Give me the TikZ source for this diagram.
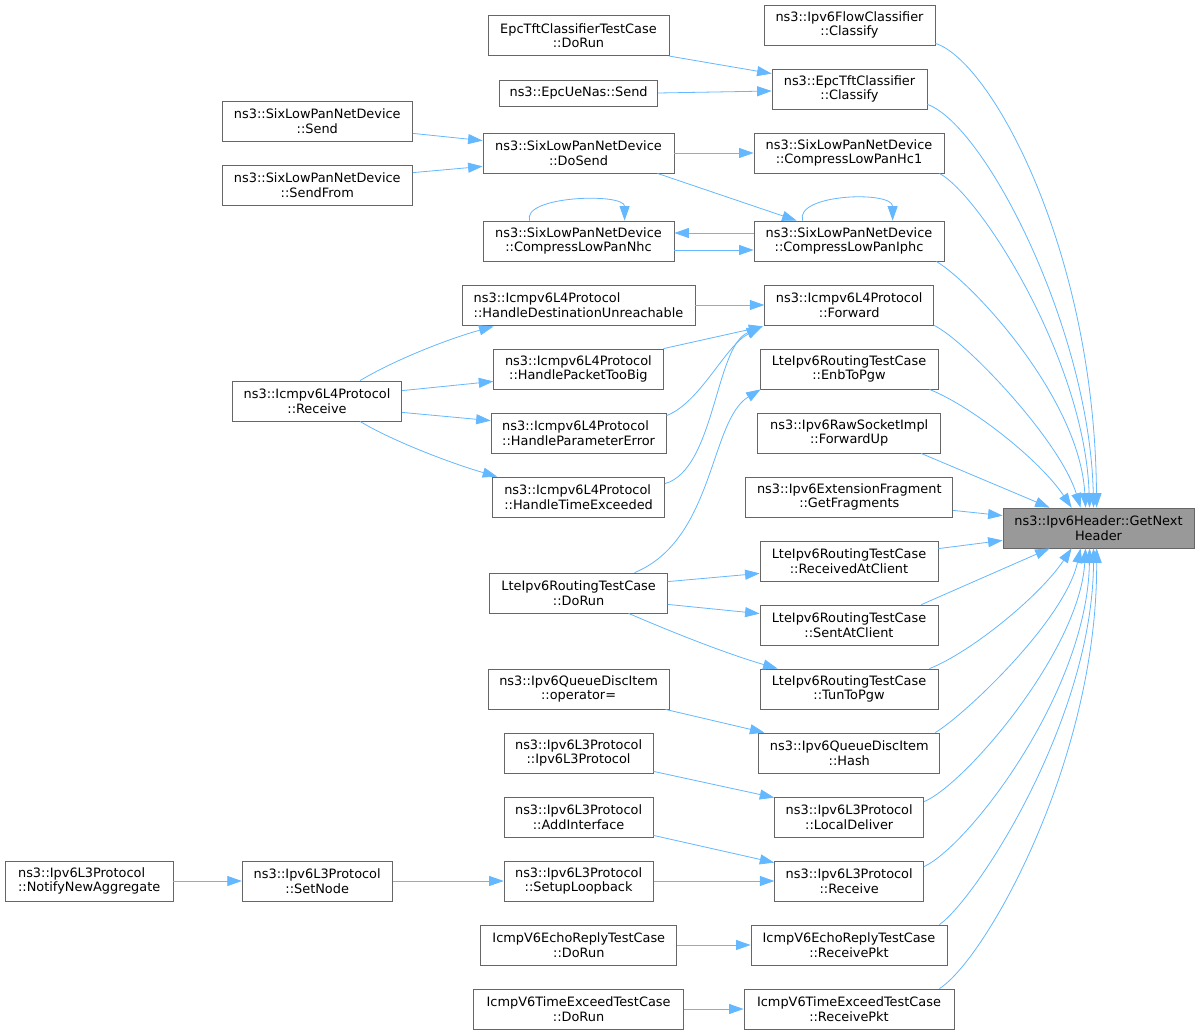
\documentclass[tikz,border=0pt]{standalone}
\usepackage{fontspec}
\setmainfont{DejaVu Sans}
\usetikzlibrary{arrows.meta}
\definecolor{edgec}{HTML}{63B8FF}
\definecolor{boxc}{HTML}{666666}
\definecolor{mainfill}{HTML}{999999}
\begin{document}
\begin{tikzpicture}[x=1bp,y=-1bp,
  box/.style={draw=boxc,line width=0.8bp,fill=white,inner sep=0pt,minimum height=40bp,align=center,font=\fontsize{12.9bp}{14.7bp}\selectfont},
  lbox/.style={box,align=left},
  edge/.style={draw=edgec,line width=0.8bp,-{Triangle[length=14.5bp,width=10bp]}}]
\fill[white] (0,0) rectangle (1200,1035);
\useasboundingbox (0,0) rectangle (1200,1035);

% target
\node[box,minimum width=191bp,fill=mainfill] (gnh) at (1098.5,528) {ns3::Ipv6Header::GetNext\\Header};

% column 3
\node[box,minimum width=171bp] (flow) at (849.5,25) {ns3::Ipv6FlowClassifier\\::Classify};
\node[box,minimum width=155bp] (epcc) at (849.5,89) {ns3::EpcTftClassifier\\::Classify};
\node[box,minimum width=190bp] (hc1) at (849,153) {ns3::SixLowPanNetDevice\\::CompressLowPanHc1};
\node[box,minimum width=190bp] (iphc) at (849,241) {ns3::SixLowPanNetDevice\\::CompressLowPanIphc};
\node[box,minimum width=169bp] (fwd) at (849.2,305) {ns3::Icmpv6L4Protocol\\::Forward};
\node[box,minimum width=178bp] (enb) at (849,369) {LteIpv6RoutingTestCase\\::EnbToPgw};
\node[box,minimum width=183bp] (fwdup) at (849.2,433) {ns3::Ipv6RawSocketImpl\\::ForwardUp};
\node[box,minimum width=207bp] (frag) at (849.3,497) {ns3::Ipv6ExtensionFragment\\::GetFragments};
\node[box,minimum width=178bp] (recv) at (849,561) {LteIpv6RoutingTestCase\\::ReceivedAtClient};
\node[box,minimum width=178bp] (sent) at (849,625) {LteIpv6RoutingTestCase\\::SentAtClient};
\node[box,minimum width=178bp] (tun) at (849,689) {LteIpv6RoutingTestCase\\::TunToPgw};
\node[box,minimum width=181bp] (hash) at (849.3,753) {ns3::Ipv6QueueDiscItem\\::Hash};
\node[box,minimum width=149bp] (ldel) at (849.2,817) {ns3::Ipv6L3Protocol\\::LocalDeliver};
\node[box,minimum width=149bp] (l3recv) at (849.2,881) {ns3::Ipv6L3Protocol\\::Receive};
\node[box,minimum width=196bp] (echo) at (849,945) {IcmpV6EchoReplyTestCase\\::ReceivePkt};
\node[box,minimum width=210bp] (texc) at (849,1009) {IcmpV6TimeExceedTestCase\\::ReceivePkt};

% column 2
\node[box,minimum width=181bp] (tftdorun) at (578.5,35.7) {EpcTftClassifierTestCase\\::DoRun};
\node[box,minimum width=158bp,minimum height=26bp] (uenas) at (578.6,93) {ns3::EpcUeNas::Send};
\node[box,minimum width=191bp] (dosend) at (578.5,153) {ns3::SixLowPanNetDevice\\::DoSend};
\node[box,minimum width=191bp] (nhc) at (578.5,241) {ns3::SixLowPanNetDevice\\::CompressLowPanNhc};
\node[lbox,minimum width=233bp] (hdu) at (578.5,305) {ns3::Icmpv6L4Protocol\\::HandleDestinationUnreachable};
\node[box,minimum width=169.4bp] (ptb) at (578.4,369) {ns3::Icmpv6L4Protocol\\::HandlePacketTooBig};
\node[lbox,minimum width=175bp] (perr) at (578.6,433) {ns3::Icmpv6L4Protocol\\::HandleParameterError};
\node[lbox,minimum width=172bp] (texd) at (578.6,497) {ns3::Icmpv6L4Protocol\\::HandleTimeExceeded};
\node[box,minimum width=177.5bp] (ltedorun) at (578.6,593) {LteIpv6RoutingTestCase\\::DoRun};
\node[box,minimum width=181bp] (opeq) at (578.6,689) {ns3::Ipv6QueueDiscItem\\::operator=};
\node[box,minimum width=149bp] (l3ctor) at (578.6,753) {ns3::Ipv6L3Protocol\\::Ipv6L3Protocol};
\node[box,minimum width=149bp] (addif) at (578.6,817) {ns3::Ipv6L3Protocol\\::AddInterface};
\node[box,minimum width=149bp] (loop) at (578.6,881) {ns3::Ipv6L3Protocol\\::SetupLoopback};
\node[box,minimum width=196bp] (echodorun) at (578.8,945) {IcmpV6EchoReplyTestCase\\::DoRun};
\node[box,minimum width=209.6bp] (texcdorun) at (578.6,1009) {IcmpV6TimeExceedTestCase\\::DoRun};

% column 1
\node[box,minimum width=190.6bp] (slpsend) at (317.3,121) {ns3::SixLowPanNetDevice\\::Send};
\node[box,minimum width=190.6bp] (sendfrom) at (317.3,185) {ns3::SixLowPanNetDevice\\::SendFrom};
\node[box,minimum width=169.5bp] (icmprecv) at (317,401) {ns3::Icmpv6L4Protocol\\::Receive};
\node[box,minimum width=150bp] (setnode) at (317.2,881) {ns3::Ipv6L3Protocol\\::SetNode};

% column 0
\node[lbox,minimum width=167.6bp] (notify) at (89.2,881) {ns3::Ipv6L3Protocol\\::NotifyNewAggregate};

% edges into the target
\draw[edge] ([shift={(0,-2)}]flow.south east) .. controls +(55,17) and +(-2,-258) .. ([shift={(94,0)}]gnh.north west);
\draw[edge] ([shift={(0,-5)}]epcc.south east) .. controls +(58,21) and +(-4,-178) .. ([shift={(91,0)}]gnh.north west);
\draw[edge] ([shift={(-5,0)}]hc1.south east) .. controls +(41,22) and +(-5,-148) .. ([shift={(87,0)}]gnh.north west);
\draw[edge] ([shift={(-8,0)}]iphc.south east) .. controls +(39,24) and +(-6,-108) .. ([shift={(83,0)}]gnh.north west);
\draw[edge] (fwd.south east) .. controls +(31,15) and +(-21,-68) .. ([shift={(78,0)}]gnh.north west);
\draw[edge] ([shift={(-9,0)}]enb.south east) .. controls +(41,16) and +(-32,-48) .. ([shift={(69,0)}]gnh.north west);
\draw[edge] ([shift={(-20,0)}]fwdup.south east) -- ([shift={(47,0)}]gnh.north west);
\draw[edge] ([shift={(0,-7)}]frag.south east) -- ([shift={(0,8)}]gnh.north west);
\draw[edge] ([shift={(0,8)}]recv.north east) -- ([shift={(0,-8)}]gnh.south west);
\draw[edge] ([shift={(-17,0)}]sent.north east) -- ([shift={(47,0)}]gnh.south west);
\draw[edge] ([shift={(-9,0)}]tun.north east) .. controls +(41,-16) and +(-32,48) .. ([shift={(69,0)}]gnh.south west);
\draw[edge] ([shift={(-5,0)}]hash.north east) .. controls +(30,-18) and +(-16,72) .. ([shift={(78,0)}]gnh.south west);
\draw[edge] ([shift={(0,5)}]ldel.north east) .. controls +(41,-17) and +(-6,102) .. ([shift={(83,0)}]gnh.south west);
\draw[edge] ([shift={(0,6)}]l3recv.north east) .. controls +(46,-22) and +(-2,142) .. ([shift={(87,0)}]gnh.south west);
\draw[edge] ([shift={(-8,0)}]echo.north east) .. controls +(36,-25) and +(-1,172) .. ([shift={(91,0)}]gnh.south west);
\draw[edge] ([shift={(-15,0)}]texc.north east) .. controls +(46,-29) and +(1,212) .. ([shift={(94,0)}]gnh.south west);

% other edges
\draw[edge] (tftdorun.south east) -- ([shift={(0,5)}]epcc.north west);
\draw[edge] (uenas.east) -- ([shift={(0,2)}]epcc.west);
\draw[edge] ([shift={(0,-8)}]slpsend.south east) -- ([shift={(0,8)}]dosend.north west);
\draw[edge] ([shift={(0,8)}]sendfrom.north east) -- ([shift={(0,-7)}]dosend.south west);
\draw[edge] (dosend.east) -- (hc1.west);
\draw[edge] ([shift={(-17,0)}]dosend.south east) -- ([shift={(43,0)}]iphc.north west);
\draw[edge] ([shift={(0,-8)}]iphc.west) -- ([shift={(0,-8)}]nhc.east);
\draw[edge] ([shift={(0,9)}]nhc.east) -- ([shift={(0,9)}]iphc.west);
\draw[edge] ([shift={(47,0)}]nhc.north west) .. controls +(-8,-25) and +(0,-28) .. ([shift={(142,0)}]nhc.north west);
\draw[edge] ([shift={(49,0)}]iphc.north west) .. controls +(-8,-27) and +(0,-30) .. ([shift={(139,0)}]iphc.north west);
\draw[edge] (hdu.east) -- (fwd.west);
\draw[edge] (ptb.north east) -- ([shift={(-1,1)}]fwd.south west);
\draw[edge] ([shift={(0,3)}]perr.north east) .. controls +(34,-13) and +(-36,18) .. ([shift={(-3,2)}]fwd.south west);
\draw[edge] ([shift={(0,7)}]texd.north east) .. controls +(50,-14) and +(-46,18) .. ([shift={(-3,2)}]fwd.south west);
\draw[edge] ([shift={(43,0)}]icmprecv.north) .. controls +(35,-21) and +(-44,12) .. ([shift={(32,1)}]hdu.south west);
\draw[edge] ([shift={(0,10)}]icmprecv.north east) -- ([shift={(0,-8)}]ptb.south west);
\draw[edge] ([shift={(0,-9)}]icmprecv.south east) -- ([shift={(0,8)}]perr.north west);
\draw[edge] ([shift={(43,0)}]icmprecv.south) .. controls +(35,21) and +(-42,-12) .. ([shift={(5,0)}]texd.north west);
\draw[edge] ([shift={(56,0)}]ltedorun.north) .. controls +(80,-33) and +(-51,31) .. ([shift={(1,0)}]enb.south west);
\draw[edge] ([shift={(0,9)}]ltedorun.north east) -- ([shift={(0,-8)}]recv.south west);
\draw[edge] ([shift={(0,-9)}]ltedorun.south east) -- ([shift={(0,9)}]sent.north west);
\draw[edge] ([shift={(50,0)}]ltedorun.south) .. controls +(51,22) and +(-48,-14) .. ([shift={(18,0)}]tun.north west);
\draw[edge] ([shift={(-4,0)}]opeq.south east) -- ([shift={(6,0)}]hash.north west);
\draw[edge] ([shift={(0,-2)}]l3ctor.south east) -- ([shift={(0,1)}]ldel.north west);
\draw[edge] ([shift={(0,-2)}]addif.south east) -- ([shift={(0,2)}]l3recv.north west);
\draw[edge] (loop.east) -- (l3recv.west);
\draw[edge] (echodorun.east) -- (echo.west);
\draw[edge] (texcdorun.east) -- (texc.west);
\draw[edge] (notify.east) -- (setnode.west);
\draw[edge] (setnode.east) -- (loop.west);
\end{tikzpicture}
\end{document}
